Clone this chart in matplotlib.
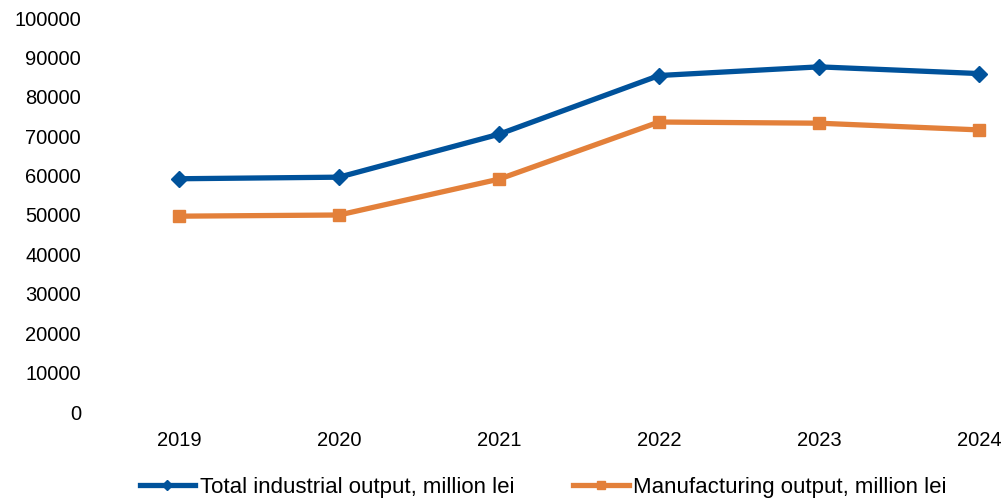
import matplotlib.pyplot as plt

years = ['2019', '2020', '2021', '2022', '2023', '2024']
total_output = [59200, 59600, 70500, 85400, 87600, 85900]
manuf_output = [49700, 50000, 59100, 73600, 73300, 71600]

plt.rcParams['font.family'] = ['Liberation Sans', 'DejaVu Sans']

fig = plt.figure(figsize=(10.02, 5.0), dpi=100)
ax = fig.add_axes([120 / 1002, 88 / 500, 882 / 1002, 394 / 500])

x = range(len(years))
ax.plot(x, total_output, color='#00529B', lw=3.8, marker='D', ms=8,
        label='Total industrial output, million lei')
ax.plot(x, manuf_output, color='#E3803A', lw=3.8, marker='s', ms=9,
        label='Manufacturing output, million lei')

ax.set_ylim(0, 100000)
ax.set_yticks(range(0, 100001, 10000))
ax.set_xlim(-59 / 160, 5 + 23 / 160)
ax.set_xticks(list(x))
ax.set_xticklabels(years)

for s in ax.spines.values():
    s.set_visible(False)
ax.tick_params(axis='both', length=0, colors='#000000')
ax.tick_params(axis='y', pad=28, labelsize=14.5)
ax.tick_params(axis='x', pad=14, labelsize=14.5)

leg = fig.legend(loc='center', bbox_to_anchor=(0.542, 0.026), ncol=2,
                 frameon=False, fontsize=16, handlelength=2.5,
                 handletextpad=0.2, columnspacing=2.65, markerscale=0.6)

fig.savefig('out.png', dpi=100)
